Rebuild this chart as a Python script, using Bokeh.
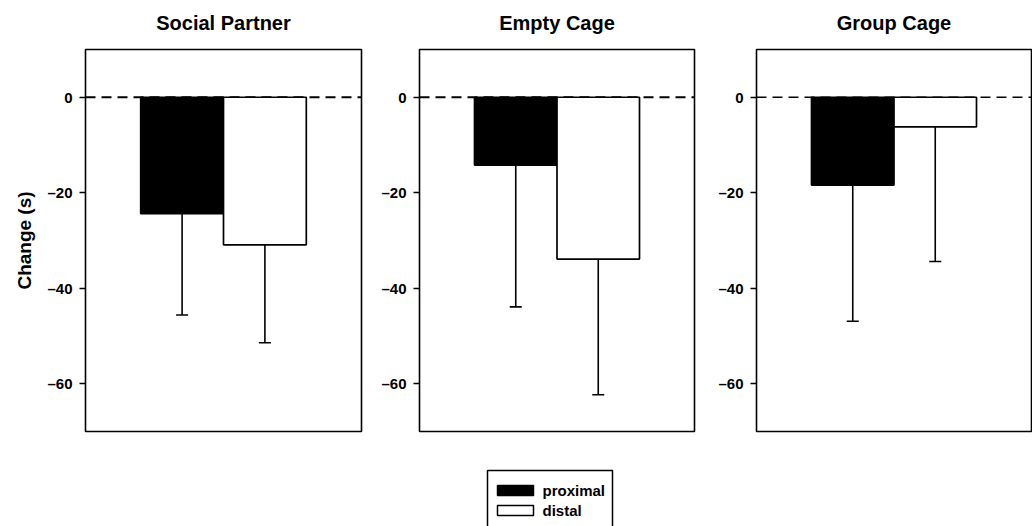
from bokeh.plotting import figure
from bokeh.layouts import column, row
from bokeh.models import (ColumnDataSource, Range1d, FixedTicker, Span, Whisker,
                          TeeHead)
from bokeh.core.properties import value
from bokeh.embed import file_html
from bokeh.resources import INLINE

# --- data -----------------------------------------------------------------
conditions = ["Social Partner", "Empty Cage", "Group Cage"]
series = ["proximal", "distal"]
proximal_mean = [-24.4, -14.2, -18.4]
proximal_err = [21.2, 29.7, 28.5]
distal_mean = [-30.9, -33.9, -6.2]
distal_err = [20.5, 28.4, 28.2]
y_ticks = [0, -20, -40, -60]
y_tick_labels = ["0", "\u201320", "\u201340", "\u201360"]
y_label = "Change (s)"
y_min, y_max = -70, 10

FONT = "Liberation Sans"

# per-panel geometry (outer width, left border, right border)
panel_widths = [371, 333, 328]
border_left = [85, 48, 52]
border_right = [10, 10, 1]
zero_width = [2, 2, 1.3]

HEAD_H = 47      # heading strip height
PANEL_H = 393    # chart height below the heading

bar_x = [-0.3, 0.3]
bar_w = 0.6


def bare(p):
    p.axis.visible = False
    p.grid.visible = False
    p.outline_line_color = None
    return p


heads = []
panels = []
for i, cond in enumerate(conditions):
    # heading strip, sharing the panel's horizontal frame
    h = bare(figure(width=panel_widths[i], height=HEAD_H, output_backend="svg",
                    toolbar_location=None, x_range=Range1d(-1, 1),
                    y_range=Range1d(0, HEAD_H),
                    min_border_left=border_left[i],
                    min_border_right=border_right[i],
                    min_border_top=0, min_border_bottom=0))
    h.text(x=[0], y=[HEAD_H - 22.5], text=[cond], text_align="center",
           text_baseline="middle", text_font=value(FONT),
           text_font_size="20px", text_font_style="bold", text_color="black")
    heads.append(h)

    p = figure(width=panel_widths[i], height=PANEL_H, output_backend="svg",
               toolbar_location=None, x_range=Range1d(-1, 1),
               y_range=Range1d(y_min, y_max),
               min_border_left=border_left[i], min_border_right=border_right[i],
               min_border_top=2, min_border_bottom=9)
    p.xaxis.visible = False
    p.grid.visible = False
    p.outline_line_color = "black"
    p.outline_line_width = 1.6
    p.outline_line_alpha = 1

    ax = p.yaxis[0]
    ax.ticker = FixedTicker(ticks=y_ticks)
    ax.major_label_overrides = dict(zip(y_ticks, y_tick_labels))
    ax.major_label_text_font = FONT
    ax.major_label_text_font_style = "bold"
    ax.major_label_text_font_size = "15px"
    ax.major_label_text_color = "black"
    ax.major_label_standoff = 7
    ax.axis_line_color = None
    ax.major_tick_out = 6
    ax.major_tick_in = 0
    ax.major_tick_line_width = 1.5
    ax.major_tick_line_color = "black"
    ax.minor_tick_line_color = None
    if i == 0:
        ax.axis_label = y_label
        ax.axis_label_text_font = FONT
        ax.axis_label_text_font_style = "bold"
        ax.axis_label_text_font_size = "19px"
        ax.axis_label_text_color = "black"
        ax.axis_label_standoff = 9

    zero = Span(location=0, dimension="width", line_color="black",
                line_width=zero_width[i], line_dash="10 6", level="underlay")
    p.add_layout(zero)

    means = [proximal_mean[i], distal_mean[i]]
    errs = [proximal_err[i], distal_err[i]]
    src = ColumnDataSource(dict(
        x=bar_x,
        mean=means,
        low=[m - e for m, e in zip(means, errs)],
        fill=["black", "white"],
    ))
    p.vbar(x="x", width=bar_w, top="mean", bottom=0, source=src,
           fill_color="fill", line_color="black", line_width=1.7)
    p.add_layout(Whisker(source=src, base="x", upper="mean", lower="low",
                         dimension="height", line_color="black", line_width=1.6,
                         upper_head=None,
                         lower_head=TeeHead(size=12, line_width=1.6,
                                            line_color="black"),
                         level="underlay"))
    panels.append(p)

# --- legend strip below the panels ------------------------------------------
leg = bare(figure(width=1032, height=86, output_backend="svg",
                  toolbar_location=None, x_range=Range1d(0, 1032),
                  y_range=Range1d(86, 0), min_border=0, min_border_left=0,
                  min_border_right=0, min_border_top=0, min_border_bottom=0))

leg.quad(left=[487], right=[612], top=[30], bottom=[95],
         fill_color="white", line_color="black", line_width=1.5)
sw_src = ColumnDataSource(dict(
    left=[497, 497], right=[533, 533], top=[45, 65], bottom=[55, 75],
    fill=["black", "white"], label=series, tx=[542, 542], ty=[50, 70],
))
leg.quad(left="left", right="right", top="top", bottom="bottom",
         fill_color="fill", line_color="black", line_width=1.5, source=sw_src)
leg.text(x="tx", y="ty", text="label", source=sw_src, text_font=value(FONT),
         text_font_style="bold", text_font_size="15px", text_baseline="middle",
         text_color="black")

layout = column(row(*heads, spacing=0), row(*panels, spacing=0), leg,
                spacing=0)

with open("out.html", "w") as f:
    f.write(file_html(layout, INLINE))
